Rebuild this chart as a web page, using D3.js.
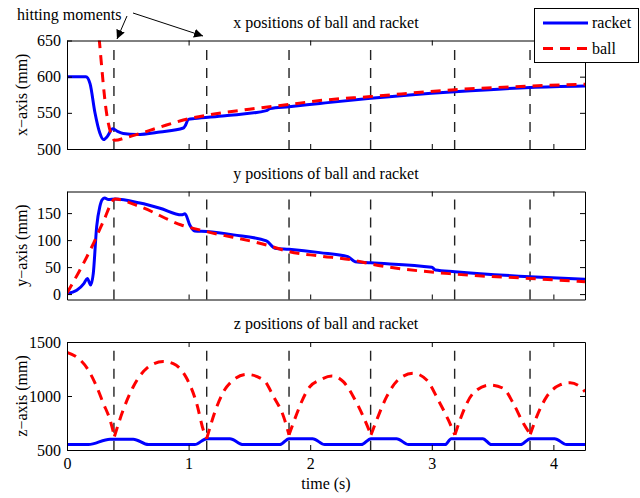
<!DOCTYPE html>
<html>
<head>
<meta charset="utf-8">
<script src="https://cdn.jsdelivr.net/npm/d3@7"></script>
<style>
  body { margin: 0; background: #fff; }
  svg text { font-family: "Liberation Serif", "DejaVu Serif", "Times New Roman", Times, serif; }
</style>
</head>
<body>
<svg id="chart" width="640" height="498"></svg>
<script>
// ---- data ----
const timeDomain = [0, 4.26];
const timeTicks = [0, 1, 2, 3, 4];
const hitTimes = [0.386, 1.149, 1.826, 2.497, 3.188, 3.808];

// x positions (mm)
const racketXt = [0, 0.156, 0.19, 0.23, 0.27, 0.30, 0.33, 0.376, 0.42, 0.463, 0.573, 0.765, 0.957, 0.975, 0.998, 1.05, 1.3, 1.64, 1.67, 1.826, 2.08, 2.497, 3.19, 3.81, 4.26];
const racketXv = [600, 600, 590, 550, 522, 513, 517, 528, 524, 521.5, 520, 523.6, 529, 533, 541, 542, 546, 553, 556, 558.5, 563, 570, 579, 585, 587];
const ballXt = [0.24, 0.266, 0.325, 0.36, 0.392, 0.49, 0.573, 0.76, 0.957, 1.149, 1.5, 1.83, 2.08, 2.497, 3.19, 3.81, 4.26];
const ballXv = [700, 650, 550, 522, 512, 516, 520, 530, 540, 546.7, 555, 561.6, 567, 572.5, 582, 587, 589.5];

// y positions (mm)
const racketYt = [0, 0.08, 0.14, 0.167, 0.195, 0.216, 0.244, 0.27, 0.29, 0.31, 0.34, 0.395, 0.6, 0.765, 0.943, 0.97, 1.01, 1.05, 1.149, 1.37, 1.64, 1.71, 1.826, 2.08, 2.31, 2.37, 2.497, 3.0, 3.03, 3.19, 3.81, 4.26];
const racketYv = [1, 7, 20, 29, 17, 38, 125, 162, 175, 177.8, 175, 176, 168.6, 159, 146.8, 148.7, 128, 117, 115.8, 109.7, 98.5, 85, 83, 76.8, 69.3, 60, 58, 49.6, 44.6, 41.5, 32.2, 27.3];
const ballYt = [0, 0.1, 0.22, 0.3, 0.395, 0.6, 0.94, 1.149, 1.64, 1.826, 2.08, 2.35, 2.5, 3.19, 3.81, 4.26];
const ballYv = [2, 42, 95, 135, 176, 162, 128, 115.8, 91, 78.6, 70.6, 63, 55.8, 37, 29, 22.9];

// z positions (mm)
const racketZt = [0, 0.175, 0.354, 0.545, 0.67, 1.05, 1.15, 1.34, 1.45, 1.75, 1.826, 2.02, 2.12, 2.42, 2.5, 2.71, 2.81, 3.11, 3.16, 3.42, 3.49, 3.73, 3.81, 4.01, 4.11, 4.26];
const racketZv = [550, 550, 600, 600, 550, 550, 605, 605, 550, 550, 605, 605, 550, 550, 605, 605, 550, 550, 605, 605, 550, 550, 605, 605, 550, 550];
const ballZt = [0, 0.093, 0.175, 0.244, 0.299, 0.354, 0.39, 0.462, 0.545, 0.655, 0.792, 0.874, 0.984, 1.066, 1.121, 1.149, 1.232, 1.314, 1.479, 1.616, 1.699, 1.781, 1.826, 1.86, 1.997, 2.08, 2.177, 2.272, 2.355, 2.437, 2.5, 2.547, 2.629, 2.738, 2.848, 2.958, 3.053, 3.136, 3.19, 3.232, 3.34, 3.479, 3.588, 3.67, 3.753, 3.81, 3.863, 3.945, 4.054, 4.137, 4.219, 4.26];
const ballZv = [1404, 1349, 1241, 1086, 932, 778, 625, 870, 1086, 1256, 1320, 1300, 1164, 932, 685, 605, 901, 1086, 1200, 1148, 994, 809, 640, 747, 1086, 1148, 1185, 1133, 994, 809, 640, 778, 994, 1164, 1210, 1148, 963, 778, 640, 778, 1025, 1102, 1071, 932, 747, 645, 809, 994, 1102, 1123, 1086, 1040];

const xDomain = [500, 650], xTicks = [500, 550, 600, 650];
const yDomain = [-10, 190], yTicks = [0, 50, 100, 150];
const zDomain = [500, 1500], zTicks = [500, 1000, 1500];
// top end of the dashed hit markers, per panel
const hitTops = [637, 175, 1420];

const zip = (t, v) => t.map((d, i) => [d, v[i]]);

// split a series at its sharp minima (bounces)
function splitAtMinima(pts) {
  const segs = [];
  let cur = [pts[0]];
  for (let i = 1; i < pts.length; i++) {
    cur.push(pts[i]);
    if (i < pts.length - 1 && pts[i][1] < pts[i - 1][1] && pts[i][1] < pts[i + 1][1]) {
      segs.push(cur);
      cur = [pts[i]];
    }
  }
  segs.push(cur);
  return segs;
}

const panels = [
  { top: 40.5, bottom: 149, title: "x positions of ball and racket", label: "x\u2212axis (mm)",
    domain: xDomain, ticks: xTicks, racket: zip(racketXt, racketXv), ball: [zip(ballXt, ballXv)], hitTop: hitTops[0] },
  { top: 191.5, bottom: 299.5, title: "y positions of ball and racket", label: "y\u2212axis (mm)",
    domain: yDomain, ticks: yTicks, racket: zip(racketYt, racketYv), ball: [zip(ballYt, ballYv)], hitTop: hitTops[1] },
  { top: 342, bottom: 450, title: "z positions of ball and racket", label: "z\u2212axis (mm)",
    domain: zDomain, ticks: zTicks, racket: zip(racketZt, racketZv), ball: splitAtMinima(zip(ballZt, ballZv)), hitTop: hitTops[2] }
];

const svg = d3.select("#chart");
const left = 67, right = 585;
const fs = 16;
const serif = "'Liberation Serif', 'DejaVu Serif', 'Times New Roman', Times, serif";

const x = d3.scaleLinear().domain(timeDomain).range([left, right]);

panels.forEach((p, i) => {
  const y = d3.scaleLinear().domain(p.domain).range([p.bottom, p.top]);
  const g = svg.append("g");

  g.append("clipPath").attr("id", "clip" + i)
    .append("rect")
    .attr("x", left).attr("y", p.top)
    .attr("width", right - left).attr("height", p.bottom - p.top);

  // hitting moments
  g.selectAll("line.hit")
    .data(hitTimes)
    .join("line")
    .attr("class", "hit")
    .attr("x1", d => x(d)).attr("x2", d => x(d))
    .attr("y1", y(p.hitTop)).attr("y2", p.bottom)
    .attr("stroke", "#222")
    .attr("stroke-width", 1.4)
    .attr("stroke-dasharray", "10,8");

  const line = d3.line()
    .x(d => x(d[0]))
    .y(d => y(d[1]))
    .curve(d3.curveMonotoneX);

  const plot = g.append("g").attr("clip-path", `url(#clip${i})`);

  plot.append("path")
    .datum(p.racket)
    .attr("d", line)
    .attr("fill", "none")
    .attr("stroke", "#0000ff")
    .attr("stroke-width", 3);

  plot.selectAll("path.ball")
    .data(p.ball)
    .join("path")
    .attr("class", "ball")
    .attr("d", line)
    .attr("fill", "none")
    .attr("stroke", "#ff0000")
    .attr("stroke-width", 3)
    .attr("stroke-dasharray", "10,7");

  // axes: box with inward ticks
  const last = i === panels.length - 1;
  g.append("g")
    .attr("transform", `translate(0,${p.bottom})`)
    .call(d3.axisBottom(x).tickValues(timeTicks).tickSize(-5).tickSizeOuter(0).tickPadding(8)
      .tickFormat(last ? d3.format("d") : ""));
  g.append("g")
    .attr("transform", `translate(0,${p.top})`)
    .call(d3.axisTop(x).tickValues(timeTicks).tickSize(-5).tickSizeOuter(0).tickFormat(""));
  g.append("g")
    .attr("transform", `translate(${left},0)`)
    .call(d3.axisLeft(y).tickValues(p.ticks).tickSize(-5).tickSizeOuter(0).tickPadding(6)
      .tickFormat(d3.format("d")));
  g.append("g")
    .attr("transform", `translate(${right},0)`)
    .call(d3.axisRight(y).tickValues(p.ticks).tickSize(-5).tickSizeOuter(0).tickFormat(""));

  g.selectAll(".domain, .tick line").attr("stroke", "#000");
  g.selectAll(".tick text")
    .attr("fill", "#000")
    .attr("font-family", serif)
    .attr("font-size", fs);

  // title
  g.append("text")
    .attr("x", (left + right) / 2)
    .attr("y", p.top - 13)
    .attr("text-anchor", "middle")
    .attr("font-family", serif)
    .attr("font-size", fs)
    .text(p.title);

  // y label
  g.append("text")
    .attr("transform", `translate(27,${(p.top + p.bottom) / 2}) rotate(-90)`)
    .attr("text-anchor", "middle")
    .attr("font-family", serif)
    .attr("font-size", fs)
    .text(p.label);
});

// x label
svg.append("text")
  .attr("x", (left + right) / 2)
  .attr("y", 489)
  .attr("text-anchor", "middle")
  .attr("font-family", serif)
  .attr("font-size", fs)
  .text("time (s)");

// annotation
const defs = svg.append("defs");
defs.append("marker")
  .attr("id", "arrow")
  .attr("viewBox", "0 0 10 10")
  .attr("refX", 10).attr("refY", 5)
  .attr("markerWidth", 9).attr("markerHeight", 9)
  .attr("markerUnits", "userSpaceOnUse")
  .attr("orient", "auto")
  .append("path")
  .attr("d", "M0,0 L10,5 L0,10 z")
  .attr("fill", "#000");

svg.append("text")
  .attr("x", 17)
  .attr("y", 20)
  .attr("font-family", serif)
  .attr("font-size", fs)
  .text("hitting moments");

svg.append("line")
  .attr("x1", 127).attr("y1", 16).attr("x2", 117).attr("y2", 39)
  .attr("stroke", "#000").attr("stroke-width", 1)
  .attr("marker-end", "url(#arrow)");
svg.append("line")
  .attr("x1", 133).attr("y1", 13).attr("x2", 203).attr("y2", 36)
  .attr("stroke", "#000").attr("stroke-width", 1)
  .attr("marker-end", "url(#arrow)");

// legend
const lg = svg.append("g");
lg.append("rect")
  .attr("x", 534.5).attr("y", 8.5)
  .attr("width", 104).attr("height", 54)
  .attr("fill", "#fff").attr("stroke", "#000");
const legendItems = [
  { name: "racket", color: "#0000ff", dash: null, y: 23 },
  { name: "ball", color: "#ff0000", dash: "10,7", y: 48.5 }
];
legendItems.forEach(d => {
  lg.append("line")
    .attr("x1", 543).attr("x2", 588)
    .attr("y1", d.y).attr("y2", d.y)
    .attr("stroke", d.color).attr("stroke-width", 3)
    .attr("stroke-dasharray", d.dash);
  lg.append("text")
    .attr("x", 592).attr("y", d.y)
    .attr("dy", "0.32em")
    .attr("font-family", serif)
    .attr("font-size", fs)
    .text(d.name);
});
</script>
</body>
</html>
